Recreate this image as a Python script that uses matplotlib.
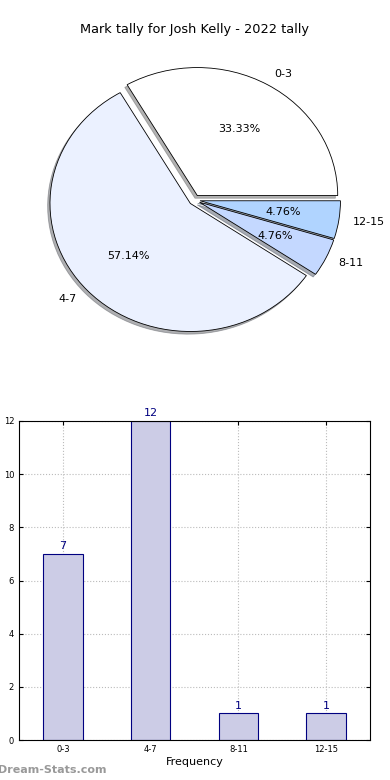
import matplotlib
matplotlib.use("Agg")
import matplotlib.pyplot as plt

# data
categories = ["0-3", "4-7", "8-11", "12-15"]
counts = [7, 12, 1, 1]
pie_colors = ["#ffffff", "#ebf1ff", "#c4d8ff", "#b0d4ff"]
explode = [0.04, 0.04, 0.04, 0.04]

title = "Mark tally for Josh Kelly - 2022 tally"

fig = plt.figure(figsize=(3.9, 7.8), dpi=100)
W, H = 390.0, 780.0

# pie chart (old style, not equal aspect)
ax1 = fig.add_axes([19 / W, (780 - 360) / H, 351 / W, 320 / H])
wedges, texts, autotexts = ax1.pie(
    counts, labels=categories, colors=pie_colors, explode=explode,
    autopct="%1.2f%%", shadow={"ox": -0.012, "oy": -0.015, "shade": 0.6},
    startangle=0,
    wedgeprops=dict(edgecolor="black", linewidth=0.6),
    textprops=dict(fontsize=8))
ax1.set_aspect("auto")
ax1.set_xlim(-1.25, 1.25)
ax1.set_ylim(-1.25, 1.25)
fig.text(0.5, 1 - 30 / H, title, ha="center", va="center", fontsize=9.3)

# bar chart
ax2 = fig.add_axes([19 / W, 40 / H, 351 / W, 319 / H])
x = range(len(categories))
bars = ax2.bar(x, counts, width=0.45, color="#ccccE6", edgecolor="navy", linewidth=0.8, zorder=2)
for xi, c in zip(x, counts):
    ax2.text(xi, c + 0.1, str(c), ha="center", va="bottom", color="navy", fontsize=8)
ax2.set_xlim(-0.5, 3.5)
ax2.set_ylim(0, 12)
ax2.set_xticks(list(x))
ax2.set_xticklabels(categories)
ax2.set_yticks(range(0, 13, 2))
ax2.tick_params(labelsize=6, direction="in", top=True, right=True, length=3)
ax2.grid(True, linestyle=":", color="#bbbbbb", linewidth=0.8, zorder=0)
ax2.set_axisbelow(True)
ax2.set_xlabel("Frequency", fontsize=8, labelpad=2)
ax2.set_ylabel("Stat Total Tally", fontsize=7, labelpad=3)

fig.text(-2 / W, 10 / H, "Dream-Stats.com", fontsize=8, color="#999999",
         fontweight="bold", ha="left", va="center")

fig.savefig("out.png", dpi=100)
